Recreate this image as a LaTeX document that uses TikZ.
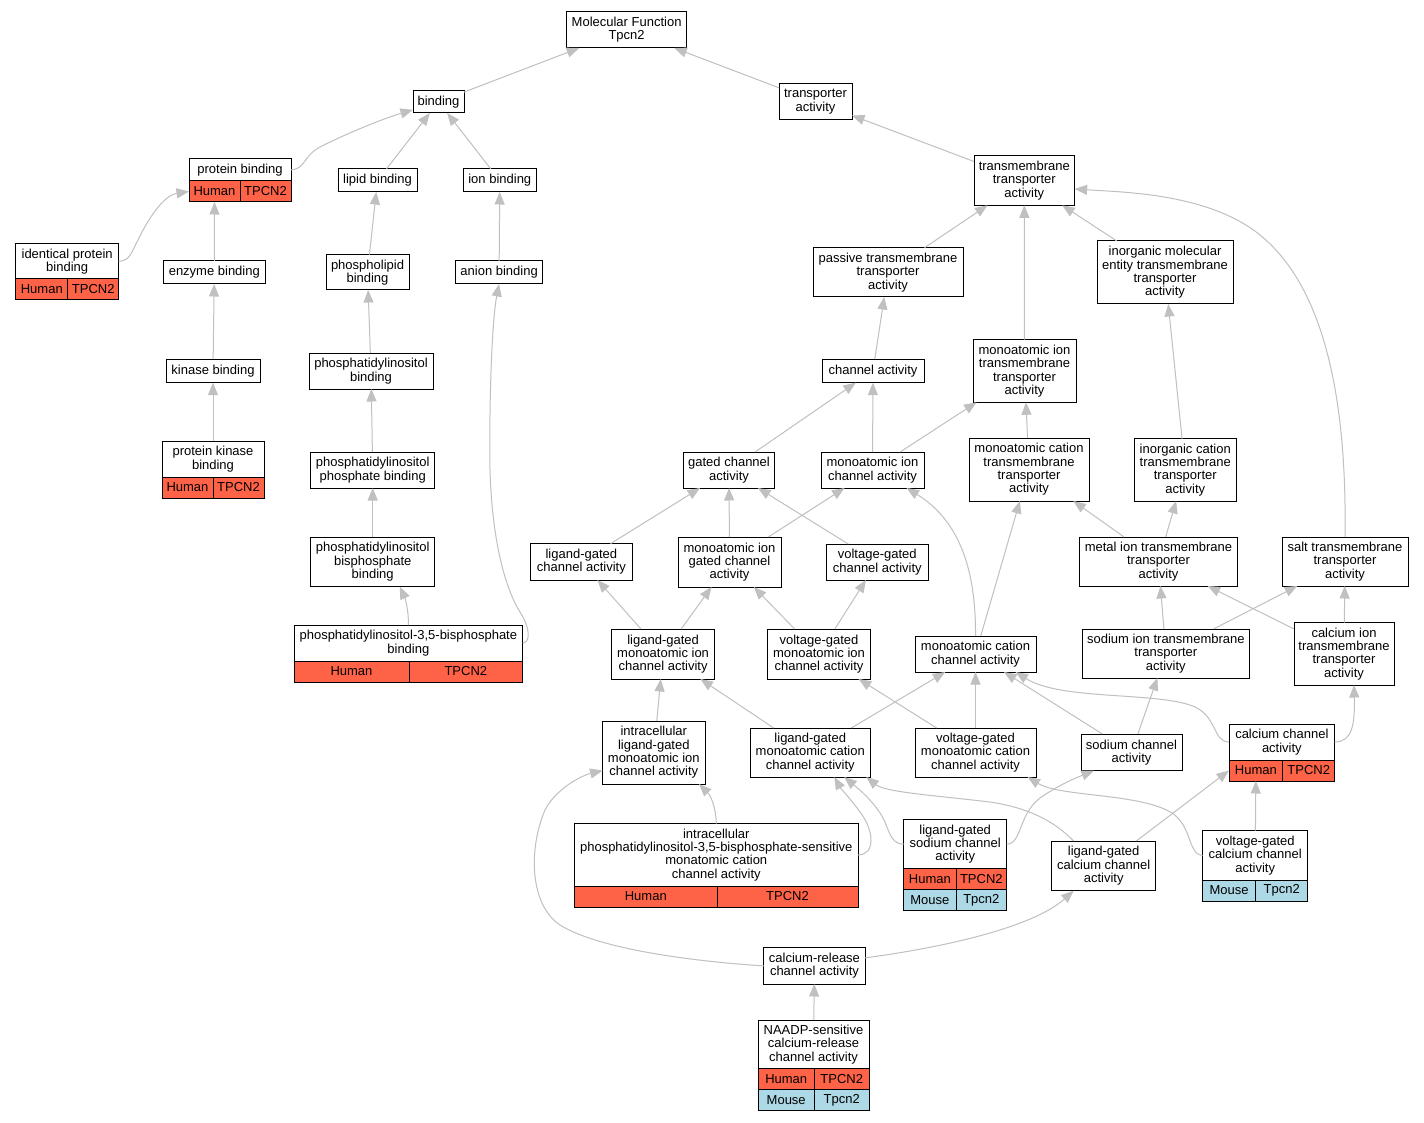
\documentclass[tikz,border=0pt]{standalone}
\usepackage{fontspec}
\setmainfont{Liberation Sans}
\usepackage{xcolor}
\usetikzlibrary{arrows.meta,positioning}
\definecolor{tomato}{HTML}{FF6347}
\definecolor{lightblue}{HTML}{ADD8E6}
\definecolor{edgegrey}{HTML}{C0C0C0}

\begin{document}
\begin{tikzpicture}[x=1pt,y=-1pt,>={Triangle[length=12.5pt,width=10pt]},
        term/.style={draw=black,line width=1pt,fill=white,inner sep=0pt,outer sep=0pt,
            align=center,font=\fontsize{13}{13.3}\selectfont},
        hum/.style={term,fill=tomato,minimum height=21},
        mou/.style={term,fill=lightblue,minimum height=21},
        isa/.style={->,draw=edgegrey,line width=1pt}]
    \path[fill=white,use as bounding box] (0,0) rectangle (1424,1123);
    % terms
    \node[term,minimum width=120.4,minimum height=36.3] (mf) at (626.6,29.85) {Molecular Function\\Tpcn2};
    \node[term,minimum width=51,minimum height=22.3] (bind) at (438.5,101.85) {binding};
    \node[term,minimum width=73,minimum height=36] (transp) at (815.5,101.7) {transporter\\activity};
    \node[term,minimum width=102,minimum height=22.3] (pb) at (240,169.85) {protein binding};
    \node[term,minimum width=79,minimum height=23] (lipid) at (377.5,180.5) {lipid binding};
    \node[term,minimum width=72.4,minimum height=23] (ionb) at (499.8,180.5) {ion binding};
    \node[term,minimum width=100.6,minimum height=49.6] (tmt) at (1024.3,180.5) {transmembrane\\transporter\\activity};
    \node[term,minimum width=102.9,minimum height=35.3] (ipb) at (67.15,261.35) {identical protein\\binding};
    \node[term,minimum width=101.4,minimum height=23] (enz) at (214.3,272.5) {enzyme binding};
    \node[term,minimum width=83,minimum height=35.3] (phl) at (367.5,272.35) {phospholipid\\binding};
    \node[term,minimum width=86.8,minimum height=23] (anion) at (499.1,272.5) {anion binding};
    \node[term,minimum width=150,minimum height=49.3] (passive) at (888,272.35) {passive transmembrane\\transporter\\activity};
    \node[term,minimum width=136,minimum height=63] (imetmt) at (1165,272.5) {inorganic molecular\\entity transmembrane\\transporter\\activity};
    \node[term,minimum width=94,minimum height=23.7] (kin) at (213,370.85) {kinase binding};
    \node[term,minimum width=124,minimum height=36] (pib) at (371,371) {phosphatidylinositol\\binding};
    \node[term,minimum width=102,minimum height=23.7] (chan) at (873,370.85) {channel activity};
    \node[term,minimum width=103,minimum height=62.6] (mitt) at (1024.5,371) {monoatomic ion\\transmembrane\\transporter\\activity};
    \node[term,minimum width=102,minimum height=36] (pkb) at (213,459) {protein kinase\\binding};
    \node[term,minimum width=124,minimum height=36] (pip) at (372.7,470) {phosphatidylinositol\\phosphate binding};
    \node[term,minimum width=91,minimum height=36] (gated) at (729,470) {gated channel\\activity};
    \node[term,minimum width=103,minimum height=36] (mica) at (872.5,470) {monoatomic ion\\channel activity};
    \node[term,minimum width=120,minimum height=63] (mctt) at (1029,469.5) {monoatomic cation\\transmembrane\\transporter\\activity};
    \node[term,minimum width=101.5,minimum height=62.3] (ictt) at (1185.25,469.85) {inorganic cation\\transmembrane\\transporter\\activity};
    \node[term,minimum width=101.3,minimum height=36.3] (lgca) at (581.35,561.85) {ligand-gated\\channel activity};
    \node[term,minimum width=103,minimum height=50] (migca) at (729.5,562) {monoatomic ion\\gated channel\\activity};
    \node[term,minimum width=101.5,minimum height=36] (vgca) at (877.25,562) {voltage-gated\\channel activity};
    \node[term,minimum width=124,minimum height=49.7] (pibp) at (372.7,561.85) {phosphatidylinositol\\bisphosphate\\binding};
    \node[term,minimum width=157.6,minimum height=49] (metal) at (1158.5,561.5) {metal ion transmembrane\\transporter\\activity};
    \node[term,minimum width=126,minimum height=49] (salt) at (1345,561.5) {salt transmembrane\\transporter\\activity};
    \node[term,minimum width=228.7,minimum height=36] (pi35) at (408.35,643) {phosphatidylinositol-3,5-bisphosphate\\binding};
    \node[term,minimum width=103,minimum height=50] (lgmic) at (663.1,654) {ligand-gated\\monoatomic ion\\channel activity};
    \node[term,minimum width=103,minimum height=50] (vgmic) at (819,654) {voltage-gated\\monoatomic ion\\channel activity};
    \node[term,minimum width=121,minimum height=36] (mcca) at (975.5,654) {monoatomic cation\\channel activity};
    \node[term,minimum width=166.3,minimum height=49] (sit) at (1165.85,653.5) {sodium ion transmembrane\\transporter\\activity};
    \node[term,minimum width=100,minimum height=62.3] (cit) at (1344,653.85) {calcium ion\\transmembrane\\transporter\\activity};
    \node[term,minimum width=102.4,minimum height=63] (ilgmic) at (653.8,752.5) {intracellular\\ligand-gated\\monoatomic ion\\channel activity};
    \node[term,minimum width=120.5,minimum height=49] (lgmcc) at (810.25,752.5) {ligand-gated\\monoatomic cation\\channel activity};
    \node[term,minimum width=121,minimum height=49] (vgmcc) at (975.5,752.5) {voltage-gated\\monoatomic cation\\channel activity};
    \node[term,minimum width=101,minimum height=36.7] (sc) at (1131.5,752.35) {sodium channel\\activity};
    \node[term,minimum width=105.7,minimum height=36] (cca) at (1281.85,742) {calcium channel\\activity};
    \node[term,minimum width=283.4,minimum height=62.3] (ipi35) at (716.3,854.85) {intracellular\\phosphatidylinositol-3,5-bisphosphate-sensitive\\monatomic cation\\channel activity};
    \node[term,minimum width=103,minimum height=49] (lgsca) at (955.2,844.2) {ligand-gated\\sodium channel\\activity};
    \node[term,minimum width=104.1,minimum height=49.7] (lgcca) at (1103.65,865.85) {ligand-gated\\calcium channel\\activity};
    \node[term,minimum width=105.2,minimum height=49.3] (vgcca) at (1255.2,855.35) {voltage-gated\\calcium channel\\activity};
    \node[term,minimum width=101.1,minimum height=36.3] (cra) at (814.45,965.85) {calcium-release\\channel activity};
    \node[term,minimum width=111,minimum height=48.7] (naadp) at (813.5,1044.35) {NAADP-sensitive\\calcium-release\\channel activity};
    % species rows
    \node[hum,minimum width=51,anchor=north west] (pbH) at (pb.south west) {Human};
    \node[hum,minimum width=51,right=0pt of pbH] (pbG) {TPCN2};
    \node[hum,minimum width=52.2,anchor=north west] (ipbH) at (ipb.south west) {Human};
    \node[hum,minimum width=50.7,right=0pt of ipbH] (ipbG) {TPCN2};
    \node[hum,minimum width=51,anchor=north west] (pkbH) at (pkb.south west) {Human};
    \node[hum,minimum width=51,right=0pt of pkbH] (pkbG) {TPCN2};
    \node[hum,minimum width=115,anchor=north west] (pi35H) at (pi35.south west) {Human};
    \node[hum,minimum width=113.7,right=0pt of pi35H] (pi35G) {TPCN2};
    \node[hum,minimum width=53.7,anchor=north west] (ccaH) at (cca.south west) {Human};
    \node[hum,minimum width=52,right=0pt of ccaH] (ccaG) {TPCN2};
    \node[hum,minimum width=142.4,anchor=north west] (ipi35H) at (ipi35.south west) {Human};
    \node[hum,minimum width=141,right=0pt of ipi35H] (ipi35G) {TPCN2};
    \node[hum,minimum width=52.3,anchor=north west] (lgscaH) at (lgsca.south west) {Human};
    \node[hum,minimum width=50.7,right=0pt of lgscaH] (lgscaG) {TPCN2};
    \node[mou,minimum width=52.3,below=0pt of lgscaH] (lgscaM) {Mouse};
    \node[mou,minimum width=50.7,below=0pt of lgscaG] (lgscaT) {Tpcn2};
    \node[mou,minimum width=53.1,anchor=north west] (vgccaM) at (vgcca.south west) {Mouse};
    \node[mou,minimum width=52.1,right=0pt of vgccaM] (vgccaT) {Tpcn2};
    \node[hum,minimum width=56.4,anchor=north west] (naadpH) at (naadp.south west) {Human};
    \node[hum,minimum width=54.6,right=0pt of naadpH] (naadpG) {TPCN2};
    \node[mou,minimum width=56.4,below=0pt of naadpH] (naadpM) {Mouse};
    \node[mou,minimum width=54.6,below=0pt of naadpG] (naadpT) {Tpcn2};
    % is_a links, child to parent
    \draw[isa] (bind) -- (mf);
    \draw[isa] (transp) -- (mf);
    \draw[isa] (pb.east) .. controls (306,169) and (303,155) .. (322,146) .. controls (350,132) and (385,118) .. ([shift={(0,8)}]bind.west);
    \draw[isa] (lipid) -- (bind);
    \draw[isa] (ionb) -- (bind);
    \draw[isa] (tmt) -- (transp);
    \draw[isa] (ipb.east) .. controls (131,261) and (132,250) .. (138,240) .. controls (150,215) and (165,195) .. (pbH.west);
    \draw[isa] (enz) -- (pbH.south);
    \draw[isa] (phl) -- (lipid);
    \draw[isa] (anion) -- (ionb);
    \draw[isa] (passive) -- (tmt);
    \draw[isa] (imetmt) -- (tmt);
    \draw[isa] (mitt) -- (tmt);
    \draw[isa] (salt.north) .. controls (1347,400) and (1325,280) .. (1252,229) .. controls (1200,193) and (1120,192) .. ([shift={(0,8.5)}]tmt.east);
    \draw[isa] (kin) -- (enz);
    \draw[isa] (pib) -- (phl);
    \draw[isa] (chan) -- (passive);
    \draw[isa] (pkb) -- (kin);
    \draw[isa] (pip) -- (pib);
    \draw[isa] (gated) -- (chan);
    \draw[isa] (mica) -- (chan);
    \draw[isa] (mica) -- (mitt);
    \draw[isa] (mctt) -- (mitt);
    \draw[isa] (ictt) -- (imetmt);
    \draw[isa] (pibp) -- (pip);
    \draw[isa] (lgca) -- (gated);
    \draw[isa] (migca) -- (gated);
    \draw[isa] (migca) -- (mica);
    \draw[isa] (vgca) -- (gated);
    \draw[isa] (mcca.north) .. controls (976,575) and (962,522) .. ([shift={(34,0)}]mica.south);
    \draw[isa] (mcca) -- (mctt);
    \draw[isa] (metal) -- (mctt);
    \draw[isa] (metal) -- (ictt);
    \draw[isa] (pi35.north) .. controls (409,612) and (405,598) .. ([shift={(27,0)}]pibp.south);
    \draw[isa] (pi35.east) .. controls (531,642) and (530,628) .. (520,612) .. controls (505,588) and (492,540) .. (490,470) .. controls (489,400) and (492,320) .. (anion.south);
    \draw[isa] (lgmic) -- (lgca);
    \draw[isa] (lgmic) -- (migca);
    \draw[isa] (vgmic) -- (migca);
    \draw[isa] (vgmic) -- (vgca);
    \draw[isa] (sit) -- (metal);
    \draw[isa] (sit) -- (salt);
    \draw[isa] (cit) -- (metal);
    \draw[isa] (cit) -- (salt);
    \draw[isa] (ilgmic) -- (lgmic);
    \draw[isa] (lgmcc) -- (lgmic);
    \draw[isa] (lgmcc) -- (mcca);
    \draw[isa] (vgmcc) -- (vgmic);
    \draw[isa] (vgmcc) -- (mcca);
    \draw[isa] (sc) -- (mcca);
    \draw[isa] (sc) -- (sit);
    \draw[isa] (cca.west) .. controls (1212,742) and (1218,714) .. (1190,705) .. controls (1150,692) and (1060,700) .. ([shift={(40,0)}]mcca.south);
    \draw[isa] (cca.east) .. controls (1352,742) and (1355,725) .. ([shift={(10,0)}]cit.south);
    \draw[isa] (ipi35.north) .. controls (716,808) and (711,796) .. ([shift={(-6,0)}]ilgmic.south east);
    \draw[isa] (ipi35.east) .. controls (876,855) and (874,830) .. (860,812) .. controls (850,798) and (841,789) .. ([shift={(24,0)}]lgmcc.south);
    \draw[isa] (lgsca.west) .. controls (888,844) and (890,826) .. (878,810) .. controls (868,796) and (855,786) .. ([shift={(34,0)}]lgmcc.south);
    \draw[isa] (lgsca.east) .. controls (1022,844) and (1018,815) .. (1040,798) .. controls (1060,784) and (1078,777) .. ([shift={(-37.5,0)}]sc.south);
    \draw[isa] ([shift={(-30,0)}]lgcca.north) .. controls (1055,822) and (1030,808) .. (990,802) .. controls (930,795) and (885,792) .. ([shift={(56,0)}]lgmcc.south);
    \draw[isa] (lgcca) -- (ccaH.west);
    \draw[isa] (vgcca.west) .. controls (1188,855) and (1192,826) .. (1172,813) .. controls (1140,793) and (1060,797) .. ([shift={(52,0)}]vgmcc.south);
    \draw[isa] (vgcca) -- (ccaH.south);
    \draw[isa] (cra.west) .. controls (700,962) and (600,950) .. (560,925) .. controls (530,905) and (528,850) .. (545,810) .. controls (555,790) and (580,776) .. ([shift={(0,18)}]ilgmic.west);
    \draw[isa] ([shift={(0,-8)}]cra.east) .. controls (940,948) and (1032,928) .. ([shift={(-30,0)}]lgcca.south);
    \draw[isa] (naadp) -- (cra);
\end{tikzpicture}
\end{document}
